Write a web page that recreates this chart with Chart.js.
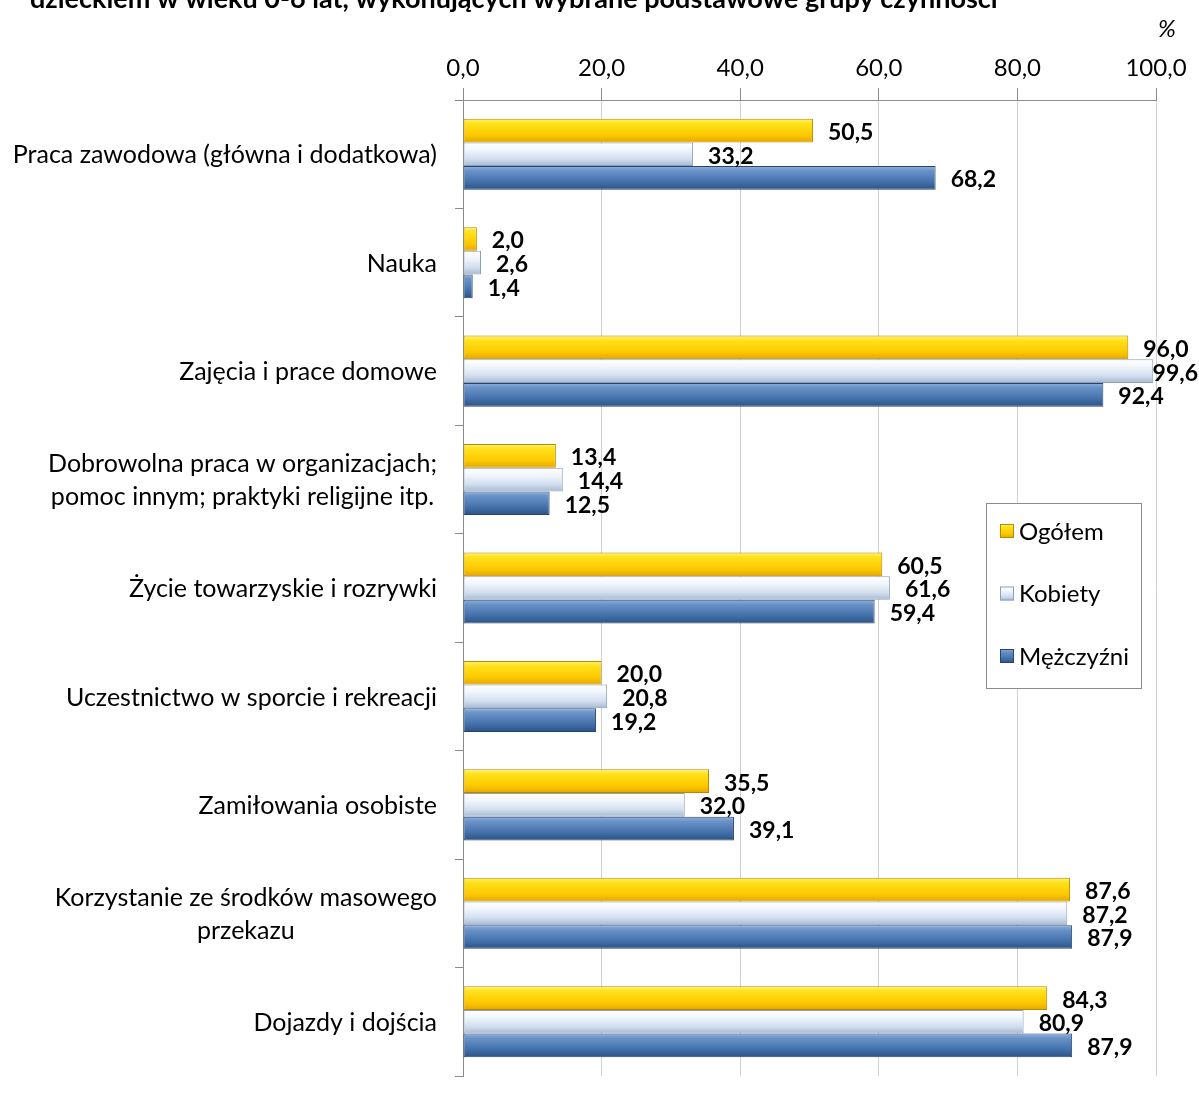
<!DOCTYPE html>
<html>
<head>
<meta charset="utf-8">
<script src="https://cdn.jsdelivr.net/npm/chart.js@4.4.0/dist/chart.umd.min.js"></script>
<style>
  html, body { margin: 0; padding: 0; background: #fff; }
</style>
</head>
<body>
<canvas id="chart" width="1199" height="1106"></canvas>
<script>
const categories = [
    ['Praca zawodowa (główna i dodatkowa)'],
    ['Nauka'],
    ['Zajęcia i prace domowe'],
    ['Dobrowolna praca w organizacjach;', 'pomoc innym; praktyki religijne itp.'],
    ['Życie towarzyskie i rozrywki'],
    ['Uczestnictwo w sporcie i rekreacji'],
    ['Zamiłowania osobiste'],
    ['Korzystanie ze środków masowego', 'przekazu'],
    ['Dojazdy i dojścia']
];
const ogolem    = [50.5, 2.0, 96.0, 13.4, 60.5, 20.0, 35.5, 87.6, 84.3];
const kobiety   = [33.2, 2.6, 99.6, 14.4, 61.6, 20.8, 32.0, 87.2, 80.9];
const mezczyzni = [68.2, 1.4, 92.4, 12.5, 59.4, 19.2, 39.1, 87.9, 87.9];
const xTicks = [0, 20, 40, 60, 80, 100];

const FONT = 'Lato';
const titleText = 'dzieckiem w wieku 0-6 lat, wykonujących wybrane podstawowe grupy czynności';

// kolory "wypukłych" słupków (góra -> dół)
const shades = [
    { stops: [[0, '#fff27a'], [0.2, '#ffe21a'], [0.7, '#fcc800'], [1, '#e6a600']], border: '#b88a00' },
    { stops: [[0, '#ffffff'], [0.3, '#f2f7fd'], [0.7, '#d2deee'], [1, '#a6b8d2']], border: '#8d9fb8' },
    { stops: [[0, '#8fb2e0'], [0.2, '#6a92c8'], [0.7, '#416ea8'], [1, '#2c5282']], border: '#27456c' }
];

function grad(ctx, top, bot, stops) {
    const g = ctx.createLinearGradient(0, top, 0, bot);
    stops.forEach(([o, c]) => g.addColorStop(o, c));
    return g;
}

const fmt = v => v.toFixed(1).replace('.', ',');

// każdy słupek dostaje własny gradient (opcje są współdzielone, więc kopia)
const barShade = {
    id: 'barShade',
    beforeDatasetsDraw(chart) {
        const ctx = chart.ctx;
        chart.data.datasets.forEach((ds, i) => {
            chart.getDatasetMeta(i).data.forEach(el => {
                const top = el.y - el.height / 2, bot = el.y + el.height / 2;
                el.options = Object.assign({}, el.options, {
                    backgroundColor: grad(ctx, top, bot, shades[i].stops),
                    borderColor: shades[i].border
                });
            });
        });
    }
};

const valueLabels = {
    id: 'valueLabels',
    afterDatasetsDraw(chart) {
        const ctx = chart.ctx;
        ctx.save();
        ctx.font = 'bold 23px ' + FONT;
        ctx.fillStyle = '#000';
        ctx.textBaseline = 'middle';
        ctx.textAlign = 'left';
        chart.data.datasets.forEach((ds, i) => {
            chart.getDatasetMeta(i).data.forEach((el, j) => {
                const txt = fmt(ds.data[j]);
                const w = ctx.measureText(txt).width;
                let x = el.x + 15;
                if (x + w > chart.width - 1) x = chart.width - 1 - w;
                ctx.fillText(txt, x, el.y + 2);
            });
        });
        ctx.restore();
    }
};

const decorations = {
    id: 'decorations',
    afterDraw(chart) {
        const ctx = chart.ctx;
        const y = chart.scales.y;
        ctx.save();
        ctx.fillStyle = '#000';

        // tytuł (ucięty u góry)
        ctx.font = 'bold 27px ' + FONT;
        ctx.textAlign = 'left';
        ctx.textBaseline = 'alphabetic';
        ctx.fillText(titleText, 30, 8);

        // jednostka
        ctx.font = 'italic 24px ' + FONT;
        ctx.fillText('%', 1158, 37);

        // etykiety kategorii
        ctx.font = '25px ' + FONT;
        ctx.textAlign = 'center';
        ctx.textBaseline = 'middle';
        const right = 437, lh = 33;
        categories.forEach((lines, i) => {
            const cy = y.getPixelForValue(i) + 1;
            const maxW = Math.max(...lines.map(l => ctx.measureText(l).width));
            const cx = right - maxW / 2;
            lines.forEach((l, k) => {
                ctx.fillText(l, cx, cy + (k - (lines.length - 1) / 2) * lh);
            });
        });

        // legenda
        ctx.fillStyle = '#fff';
        ctx.fillRect(986, 503, 155, 185);
        ctx.strokeStyle = '#8c8c8c';
        ctx.lineWidth = 1;
        ctx.strokeRect(986.5, 503.5, 155, 185);
        ctx.font = '24px ' + FONT;
        ctx.textAlign = 'left';
        chart.data.datasets.forEach((ds, i) => {
            const ly = 531 + i * 62.5;
            ctx.fillStyle = grad(ctx, ly - 7, ly + 7, shades[i].stops);
            ctx.fillRect(1000, ly - 7, 14, 14);
            ctx.strokeStyle = shades[i].border;
            ctx.strokeRect(1000.5, ly - 6.5, 13, 13);
            ctx.fillStyle = '#000';
            ctx.fillText(ds.label, 1019, ly + 1);
        });
        ctx.restore();
    }
};

new Chart(document.getElementById('chart'), {
    type: 'bar',
    data: {
        labels: categories.map(c => c.join(' ')),
        datasets: [
            { label: 'Ogółem', data: ogolem },
            { label: 'Kobiety', data: kobiety },
            { label: 'Mężczyźni', data: mezczyzni }
        ]
    },
    options: {
        indexAxis: 'y',
        responsive: false,
        animation: false,
        layout: { padding: { left: 0, right: 43, top: 0, bottom: 30 } },
        datasets: {
            bar: {
                categoryPercentage: 0.655,
                barPercentage: 1.0,
                borderWidth: 1,
                borderSkipped: false
            }
        },
        plugins: {
            legend: { display: false },
            tooltip: { enabled: false }
        },
        scales: {
            x: {
                position: 'top',
                min: 0,
                max: 100,
                afterBuildTicks: s => { s.ticks = xTicks.map(v => ({ value: v })); },
                afterFit: s => { s.height = 100; },
                ticks: {
                    padding: 5,
                    color: '#000',
                    font: { family: FONT, size: 24 },
                    callback: v => fmt(v)
                },
                grid: { color: '#d0d0d0', tickColor: '#8c8c8c', tickLength: 12, lineWidth: 1 },
                border: { display: true, color: '#8c8c8c' }
            },
            y: {
                afterFit: s => { s.width = 463; },
                ticks: { display: false },
                grid: { drawOnChartArea: false, tickColor: '#8c8c8c', tickLength: 8, offset: true },
                border: { display: true, color: '#8c8c8c' }
            }
        }
    },
    plugins: [barShade, valueLabels, decorations]
});
</script>
</body>
</html>
